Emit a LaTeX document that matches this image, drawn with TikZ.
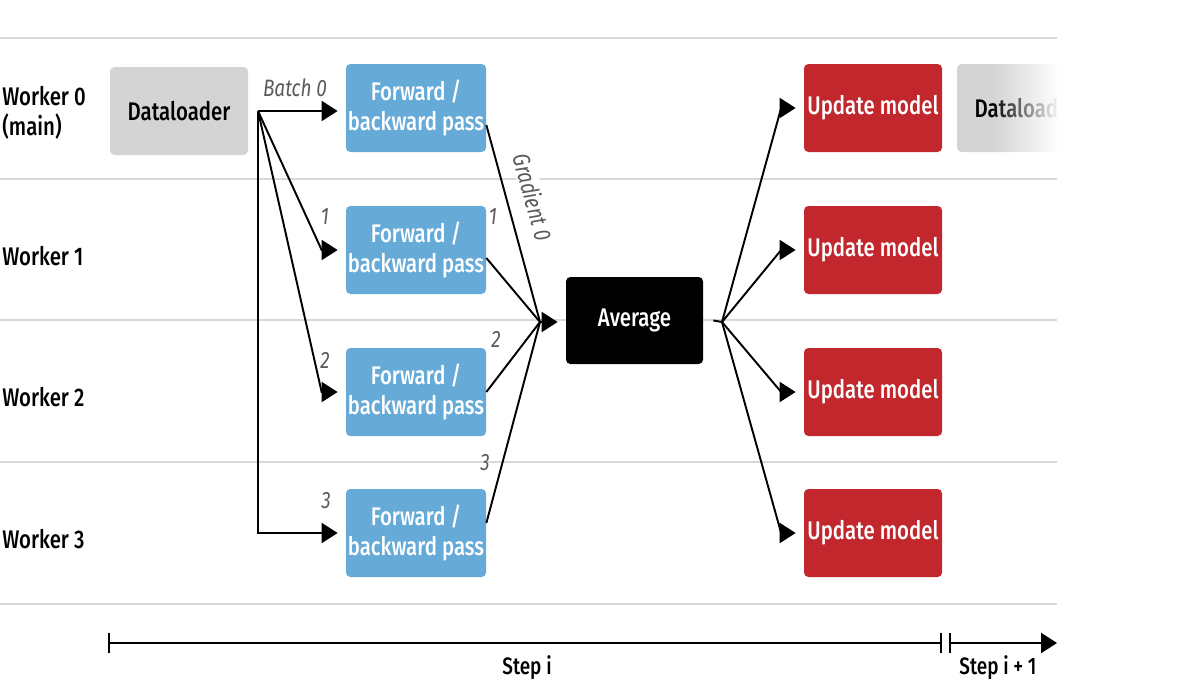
\documentclass[tikz,border=0pt]{standalone}
\usepackage{fontspec}
\setmainfont{Fira Sans}[FakeStretch=0.8, UprightFont={* Medium}, ItalicFont={* Italic}]
\usetikzlibrary{arrows.meta,fadings}
\definecolor{fwdblue}{RGB}{102,170,216}
\definecolor{updred}{RGB}{193,39,45}
\definecolor{loadgray}{RGB}{212,212,212}
\definecolor{rowgray}{RGB}{216,216,216}
\definecolor{lblgray}{RGB}{90,90,90}
\begin{document}
\begin{tikzpicture}[
  box/.style={rounded corners=2.5pt, minimum width=2.8cm, minimum height=1.76cm, align=center, inner sep=0pt, font=\fontsize{14.5}{17}\selectfont},
  fwdbox/.style={box, fill=fwdblue, text=white},
  updbox/.style={box, fill=updred, text=white, minimum width=2.76cm},
  loadbox/.style={box, fill=loadgray, minimum width=2.76cm},
  rowline/.style={draw=rowgray, line width=1.2pt},
  worker/.style={anchor=west, align=left, inner sep=0pt, font=\fontsize{14.5}{17}\selectfont},
  conn/.style={line width=1.1pt},
  arr/.style={conn, -{Triangle[length=0.32cm,width=0.4cm]}, shorten >=0.16cm},
  lbl/.style={text=lblgray, inner sep=1pt, font=\itshape\fontsize{13.5}{15}\selectfont},
]
\useasboundingbox (0,0) rectangle (24,-13.74);
% rows
\draw[rowline] (0,-0.76) -- (21.14,-0.76);
\draw[rowline] (0,-3.58) -- (21.14,-3.58);
\draw[rowline] (0,-6.4) -- (21.14,-6.4);
\draw[rowline] (0,-9.24) -- (21.14,-9.24);
\draw[rowline] (0,-12.08) -- (21.14,-12.08);
\node[worker] (w0) at (0.04,-2.26) {Worker 0\\(main)};
\node[worker] (w1) at (0.04,-5.12) {Worker 1};
\node[worker] (w2) at (0.04,-7.94) {Worker 2};
\node[worker] (w3) at (0.04,-10.78) {Worker 3};
%
\node[loadbox] (load) at (3.58,-2.22) {Dataloader};
\node[fwdbox] (fwd0) at (8.32,-2.16) {Forward /\\backward pass};
\node[fwdbox] (fwd1) at (8.32,-5.0) {Forward /\\backward pass};
\node[fwdbox] (fwd2) at (8.32,-7.84) {Forward /\\backward pass};
\node[fwdbox] (fwd3) at (8.32,-10.66) {Forward /\\backward pass};
\node[box, fill=black, text=white, minimum width=2.74cm, minimum height=1.74cm] (avg) at (12.69,-6.41) {Average};
\node[updbox] (upd0) at (17.46,-2.16) {Update model};
\node[updbox] (upd1) at (17.46,-5.0) {Update model};
\node[updbox] (upd2) at (17.46,-7.84) {Update model};
\node[updbox] (upd3) at (17.46,-10.66) {Update model};
\begin{scope}
\clip (0,0) rectangle (21.14,-13.74);
\node[loadbox] (next) at (20.52,-2.16) {Dataloader};
\end{scope}
\fill[white, path fading=west] (19.85,-0.9) rectangle (21.2,-3.4);
%
\coordinate (split) at (5.16,-2.22);
\draw[arr] (split) -- (split -| fwd0.west);
\draw[arr] (split) -- ([xshift=-0.48cm]fwd1.west) -- (fwd1.west);
\draw[arr] (split) -- ([xshift=-0.48cm]fwd2.west) -- (fwd2.west);
\draw[arr] (split) |- (fwd3.west);
\node[lbl] (b0) at (5.9,-1.76) {Batch 0};
\node[lbl] (b1) at (6.5,-4.34) {1};
\node[lbl] (b2) at (6.5,-7.2) {2};
\node[lbl] (b3) at (6.52,-10.02) {3};
%
\coordinate (merge) at (10.8,-6.44);
\draw[conn] ([yshift=-0.34cm]fwd0.east) -- (merge);
\draw[conn] ([yshift=-0.16cm]fwd1.east) -- (merge);
\draw[conn] (fwd2.east) -- (merge);
\draw[conn] ([yshift=0.2cm]fwd3.east) -- (merge);
\draw[arr] (merge) -- (merge -| avg.west);
\node[lbl, fill=white, rotate=-74] (g0) at (10.66,-3.94) {Gradient 0};
\node[lbl] (g1) at (9.86,-4.34) {1};
\node[lbl] (g2) at (9.92,-6.78) {2};
\node[lbl] (g3) at (9.7,-9.26) {3};
%
\coordinate (bcast) at (14.44,-6.44);
\draw[conn] ([xshift=0.2cm]avg.east) -- (bcast);
\draw[arr] (bcast) -- ([xshift=-0.45cm]upd0.west) -- (upd0.west);
\draw[arr] (bcast) -- ([xshift=-0.45cm]upd1.west) -- (upd1.west);
\draw[arr] (bcast) -- ([xshift=-0.45cm]upd2.west) -- (upd2.west);
\draw[arr] (bcast) -- ([xshift=-0.45cm]upd3.west) -- (upd3.west);
% time axis
\coordinate (t0) at (2.16,-12.86);
\coordinate (t1) at (18.84,-12.86);
\coordinate (t2) at (18.98,-12.86);
\coordinate (t3) at (21.14,-12.86);
\draw[conn, {Bar[width=0.4cm]}-{Bar[width=0.4cm]}] (t0) -- (t1);
\draw[conn, {Bar[width=0.4cm]}-{Triangle[length=0.32cm,width=0.4cm]}] (t2) -- (t3);
\node[font=\fontsize{13.5}{15}\selectfont] (si) at (10.54,-13.36) {Step i};
\node[font=\fontsize{13.5}{15}\selectfont] (sn) at (19.96,-13.36) {Step i + 1};
\end{tikzpicture}
\end{document}
